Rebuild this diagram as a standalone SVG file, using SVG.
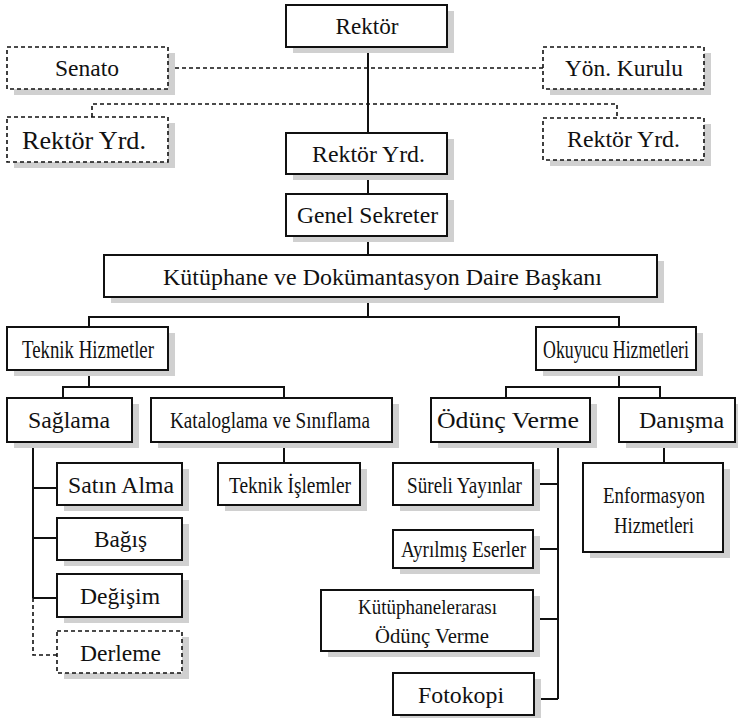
<svg xmlns="http://www.w3.org/2000/svg" width="738" height="718" viewBox="0 0 738 718">
<style>
.sh{fill:#d0d0d0;stroke:none}
.bx{fill:#fff;stroke:#111;stroke-width:2}
.db{fill:#fff;stroke:#111;stroke-width:1.6;stroke-dasharray:4 3}
.t{font-size:24px;font-weight:normal;fill:#111;text-anchor:middle}
.ln{fill:none;stroke:#111;stroke-width:2}
.dl{fill:none;stroke:#111;stroke-width:1.6;stroke-dasharray:4 3}
</style>
<rect width="738" height="718" fill="#fff"/>
<g id="connectors">
<path class="dl" d="M168 68H543"/>
<path class="dl" d="M92 117V104H617V118"/>
<path class="ln" d="M368 47V133M368 174V194M368 236V255M368 297V317"/>
<path class="ln" d="M89 327V317H619V327"/>
<path class="ln" d="M89 370V387M63 398V387H284V398"/>
<path class="ln" d="M619 370V387M506 398V387H660V398"/>
<path class="ln" d="M33 442V598M33 488H57M33 538H57M33 598H57"/>
<path class="dl" d="M33 598V655H57"/>
<path class="ln" d="M284 442V463"/>
<path class="ln" d="M664 442V463"/>
<path class="ln" d="M558 442V699M533 484H558M533 549H558M533 619H558M534 699H558"/>
</g>
<g font-family="'Liberation Serif', 'Times New Roman', Times, serif">
<g id="rektor"><rect class="sh" x="293" y="11" width="161" height="42"/><rect class="bx" x="286" y="5" width="161" height="42"/><text class="t" x="367" y="34" textLength="63" lengthAdjust="spacingAndGlyphs">Rektör</text></g>
<g id="senato"><rect class="sh" x="14" y="53" width="161" height="42"/><rect class="db" x="7" y="47" width="161" height="42"/><text class="t" x="87" y="76" textLength="64" lengthAdjust="spacingAndGlyphs">Senato</text></g>
<g id="yon-kurulu"><rect class="sh" x="550" y="53" width="161" height="42"/><rect class="db" x="543" y="47" width="161" height="42"/><text class="t" x="624" y="76" textLength="118" lengthAdjust="spacingAndGlyphs">Yön. Kurulu</text></g>
<g id="rektor-yrd-sol"><rect class="sh" x="14" y="123" width="161" height="45"/><rect class="db" x="7" y="117" width="161" height="45"/><text class="t" x="84" y="149" style="font-size:25px" textLength="124" lengthAdjust="spacingAndGlyphs">Rektör Yrd.</text></g>
<g id="rektor-yrd-sag"><rect class="sh" x="550" y="124" width="161" height="42"/><rect class="db" x="543" y="118" width="161" height="42"/><text class="t" x="623.5" y="147" textLength="113" lengthAdjust="spacingAndGlyphs">Rektör Yrd.</text></g>
<g id="rektor-yrd"><rect class="sh" x="293" y="139" width="161" height="41"/><rect class="bx" x="286" y="133" width="161" height="41"/><text class="t" x="368.5" y="162" textLength="113" lengthAdjust="spacingAndGlyphs">Rektör Yrd.</text></g>
<g id="genel-sekreter"><rect class="sh" x="293" y="200" width="161" height="42"/><rect class="bx" x="286" y="194" width="161" height="42"/><text class="t" x="367.5" y="223" textLength="141" lengthAdjust="spacingAndGlyphs">Genel Sekreter</text></g>
<g id="daire-baskani"><rect class="sh" x="111" y="261" width="553" height="42"/><rect class="bx" x="104" y="255" width="553" height="42"/><text class="t" x="382.5" y="285" textLength="439" lengthAdjust="spacingAndGlyphs">Kütüphane ve Dokümantasyon Daire Başkanı</text></g>
<g id="teknik-hizmetler"><rect class="sh" x="14" y="333" width="161" height="43"/><rect class="bx" x="7" y="327" width="161" height="43"/><text class="t" x="88" y="358" style="font-size:26px" textLength="132" lengthAdjust="spacingAndGlyphs">Teknik Hizmetler</text></g>
<g id="okuyucu-hizmetleri"><rect class="sh" x="543" y="333" width="160" height="43"/><rect class="bx" x="536" y="327" width="160" height="43"/><text class="t" transform="translate(616 358) scale(0.713 1)" x="0" y="0" style="font-size:25px">Okuyucu Hizmetleri</text></g>
<g id="saglama"><rect class="sh" x="14" y="404" width="125" height="44"/><rect class="bx" x="7" y="398" width="125" height="44"/><text class="t" x="69" y="428" textLength="82" lengthAdjust="spacingAndGlyphs">Sağlama</text></g>
<g id="kataloglama"><rect class="sh" x="158" y="404" width="241" height="44"/><rect class="bx" x="151" y="398" width="241" height="44"/><text class="t" x="270" y="428" textLength="200" lengthAdjust="spacingAndGlyphs">Kataloglama ve Sınıflama</text></g>
<g id="odunc-verme"><rect class="sh" x="438" y="404" width="159" height="44"/><rect class="bx" x="431" y="398" width="159" height="44"/><text class="t" x="508" y="428" textLength="142" lengthAdjust="spacingAndGlyphs">Ödünç Verme</text></g>
<g id="danisma"><rect class="sh" x="626" y="404" width="116" height="44"/><rect class="bx" x="619" y="398" width="116" height="44"/><text class="t" x="681.5" y="428" textLength="85" lengthAdjust="spacingAndGlyphs">Danışma</text></g>
<g id="satin-alma"><rect class="sh" x="64" y="469" width="125" height="42"/><rect class="bx" x="57" y="463" width="125" height="42"/><text class="t" x="121" y="493" textLength="106" lengthAdjust="spacingAndGlyphs">Satın Alma</text></g>
<g id="bagis"><rect class="sh" x="64" y="524" width="125" height="42"/><rect class="bx" x="57" y="518" width="125" height="42"/><text class="t" x="120.5" y="547" textLength="53" lengthAdjust="spacingAndGlyphs">Bağış</text></g>
<g id="degisim"><rect class="sh" x="64" y="580" width="125" height="43"/><rect class="bx" x="57" y="574" width="125" height="43"/><text class="t" x="120" y="604" textLength="80" lengthAdjust="spacingAndGlyphs">Değişim</text></g>
<g id="derleme"><rect class="sh" x="64" y="637" width="125" height="42"/><rect class="db" x="57" y="631" width="125" height="42"/><text class="t" x="120.5" y="661" textLength="81" lengthAdjust="spacingAndGlyphs">Derleme</text></g>
<g id="teknik-islemler"><rect class="sh" x="225" y="469" width="142" height="42"/><rect class="bx" x="218" y="463" width="142" height="42"/><text class="t" x="290" y="493" textLength="122" lengthAdjust="spacingAndGlyphs">Teknik İşlemler</text></g>
<g id="sureli-yayinlar"><rect class="sh" x="400" y="469" width="140" height="42"/><rect class="bx" x="393" y="463" width="140" height="42"/><text class="t" x="464.5" y="493" textLength="115" lengthAdjust="spacingAndGlyphs">Süreli Yayınlar</text></g>
<g id="ayrilmis-eserler"><rect class="sh" x="400" y="536" width="140" height="38"/><rect class="bx" x="393" y="530" width="140" height="38"/><text class="t" x="463.5" y="557" textLength="125" lengthAdjust="spacingAndGlyphs">Ayrılmış Eserler</text></g>
<g id="kutuphanelerarasi"><rect class="sh" x="328" y="596" width="212" height="61"/><rect class="bx" x="321" y="590" width="212" height="61"/><text class="t" x="427.5" y="614" style="font-size:21px" textLength="139" lengthAdjust="spacingAndGlyphs">Kütüphanelerarası</text><text class="t" x="432" y="643" style="font-size:21px" textLength="114" lengthAdjust="spacingAndGlyphs">Ödünç Verme</text></g>
<g id="fotokopi"><rect class="sh" x="400" y="679" width="141" height="42"/><rect class="bx" x="393" y="673" width="141" height="42"/><text class="t" x="461" y="703" textLength="86" lengthAdjust="spacingAndGlyphs">Fotokopi</text></g>
<g id="enformasyon"><rect class="sh" x="590" y="469" width="140" height="89"/><rect class="bx" x="583" y="463" width="140" height="89"/><text class="t" x="654" y="503" style="font-size:23px" textLength="102" lengthAdjust="spacingAndGlyphs">Enformasyon</text><text class="t" x="654" y="533" style="font-size:23px" textLength="80" lengthAdjust="spacingAndGlyphs">Hizmetleri</text></g>
</g>
</svg>
